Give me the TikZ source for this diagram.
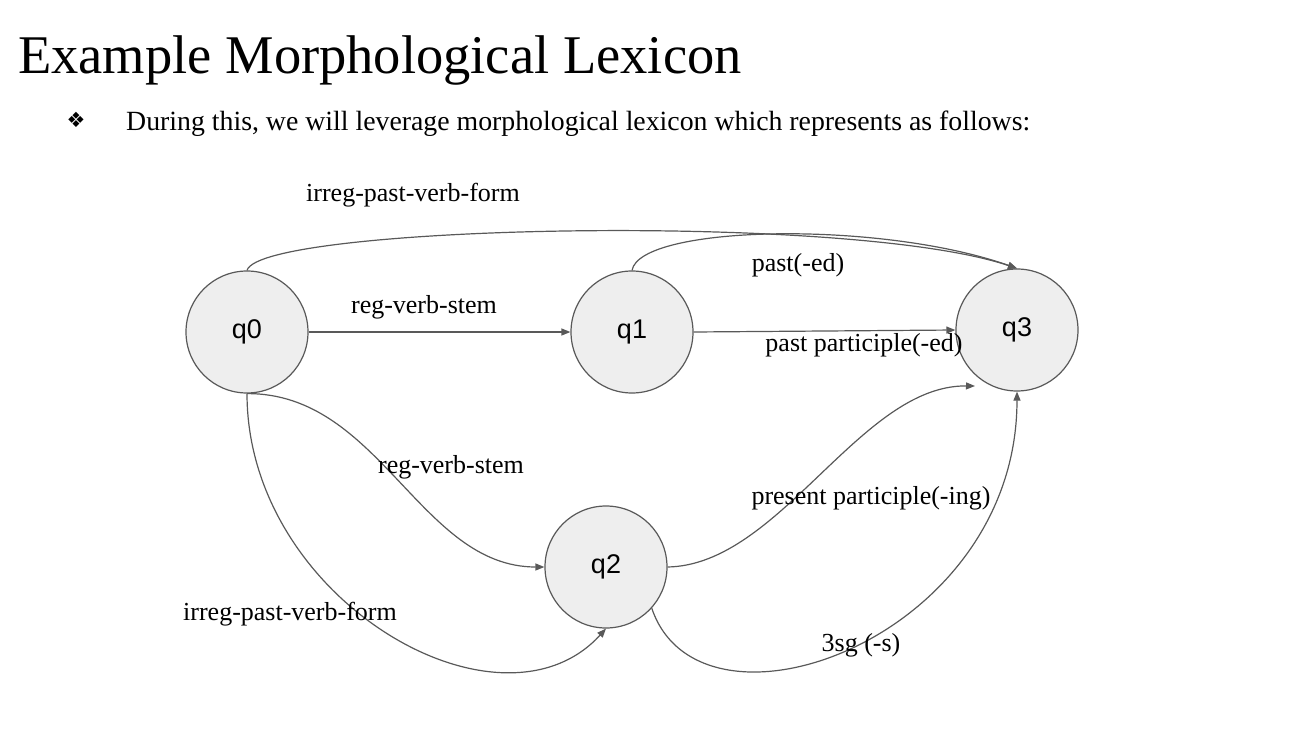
\documentclass[tikz,border=0pt]{standalone}
\usepackage{fontspec}
\setmainfont{Liberation Serif}
\newfontfamily\arialf{Liberation Sans}
\newfontfamily\dejavu{DejaVu Sans}
\usetikzlibrary{arrows.meta}
\definecolor{edgec}{HTML}{595959}
\definecolor{nodefill}{HTML}{EEEEEE}
\tikzset{
  state/.style={circle, draw=edgec, fill=nodefill, line width=1.2pt, minimum size=122pt, inner sep=0pt, font=\arialf\fontsize{27}{30}\selectfont},
  edge/.style={draw=edgec, line width=1.2pt, -{Triangle[length=9pt,width=7pt]}},
  lbl/.style={inner sep=0pt, font=\fontsize{26}{29}\selectfont},
}
\begin{document}
\begin{tikzpicture}[x=1pt,y=-1pt]
\useasboundingbox (0,0) rectangle (1310,736);
\node[anchor=base west, inner sep=0pt, font=\fontsize{54.5}{60}\selectfont] (title) at (18,73) {Example Morphological Lexicon};
\node[inner sep=0pt, font=\dejavu\fontsize{21}{23}\selectfont] (bul) at (76,120) {❖};
\node[anchor=base west, inner sep=0pt, font=\fontsize{27.8}{30}\selectfont] (sub) at (126,130) {During this, we will leverage morphological lexicon which represents as follows:};

\node[state] (q0) at (247,332) {q0};
\node[state] (q1) at (632,332) {q1};
\node[state] (q3) at (1017,330) {q3};
\node[state] (q2) at (606,567) {q2};
\coordinate (q3in) at (975,386);

\draw[edge] (q0.north) .. controls (260,225) and (850,212) .. (q3.north);
\draw[edge] (q1.north) .. controls (640,225) and (880,220) .. (q3.north);
\draw[edge] (q0.east) -- (q1.west);
\draw[edge] (q1.east) -- (q3.west);
\draw[edge] (q0.south) .. controls (380,393) and (420,567) .. (q2.west);
\draw[edge] (q0.south) .. controls (247,600) and (500,745) .. (q2.south);
\draw[edge] (q2.-42) .. controls (700,752) and (1017,640) .. (q3.south);
\draw[edge] (q2.east) .. controls (780,565) and (860,385) .. (q3in);

\node[lbl] (l1) at (413,195) {irreg-past-verb-form};
\node[lbl] (l2) at (424,307) {reg-verb-stem};
\node[lbl] (l3) at (798,265) {past(-ed)};
\node[lbl] (l4) at (864,345) {past participle(-ed)};
\node[lbl] (l5) at (451,467) {reg-verb-stem};
\node[lbl] (l6) at (871,498) {present participle(-ing)};
\node[lbl] (l7) at (290,614) {irreg-past-verb-form};
\node[lbl] (l8) at (861,645) {3sg (-s)};
\end{tikzpicture}
\end{document}
